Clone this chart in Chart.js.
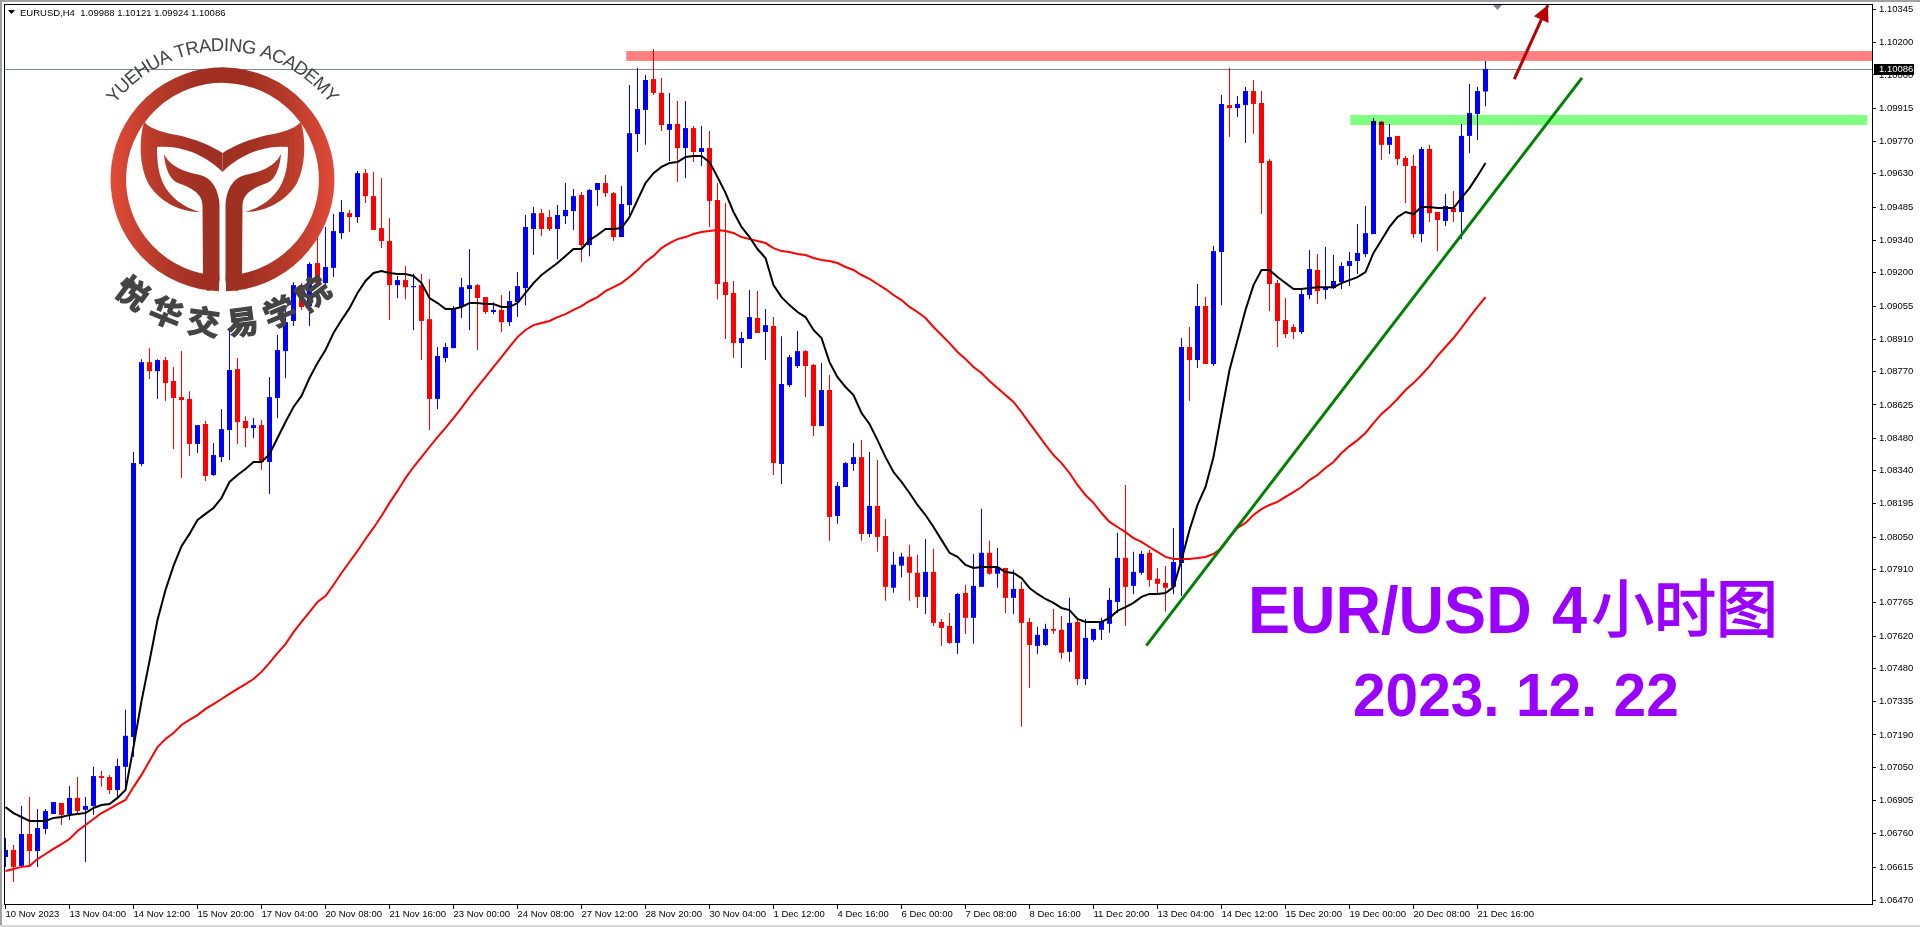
<!DOCTYPE html>
<html lang="zh">
<head>
    <meta charset="utf-8">
    <title>EURUSD H4</title>
    <style>
        html, body { margin: 0; padding: 0; background: #fff; overflow: hidden; }
        canvas { display: block; }
    </style>
    <script src="https://cdn.jsdelivr.net/npm/chart.js@4/dist/chart.umd.min.js"></script>
</head>
<body>
    <canvas id="myChart" width="1920" height="927"></canvas>
    <script>
        const opens = [
            1.06659,1.06690,1.06620,1.06759,1.06685,1.06781,1.06846,1.06894,1.06846,1.06916,
            1.06864,1.06881,1.07011,1.07007,1.06950,1.07051,1.07181,1.08368,1.08811,1.08772,
            1.08820,1.08729,1.08659,1.08651,1.08455,1.08542,1.08320,1.08398,1.08516,1.08781,
            1.08555,1.08524,1.08537,1.08377,1.08655,1.08859,1.08990,1.09137,1.09055,1.09242,
            1.09155,1.09221,1.09372,1.09459,1.09442,1.09633,1.09533,1.09394,1.09338,1.09146,
            1.09168,1.09137,1.09146,1.08998,1.08651,1.08829,1.08872,1.09051,1.09129,1.09146,
            1.09094,1.09029,1.09038,1.08985,1.09072,1.09133,1.09390,1.09459,1.09442,1.09390,
            1.09446,1.09468,1.09538,1.09320,1.09560,1.09590,1.09546,1.09355,1.09494,1.09803,
            1.09908,1.10042,1.09982,1.09821,1.09847,1.09742,1.09829,1.09725,1.09742,1.09516,
            1.09159,1.09112,1.08894,1.08912,1.09003,1.08942,1.08968,1.08368,1.08711,1.08794,
            1.08859,1.08799,1.08533,1.08690,1.08142,1.08268,1.08368,1.08398,1.08064,1.08186,
            1.08055,1.07830,1.07926,1.07965,1.07895,1.07790,1.07899,1.07681,1.07664,1.07590,
            1.07807,1.07699,1.07834,1.07982,1.07891,1.07916,1.07786,1.07825,1.07681,1.07577,
            1.07581,1.07651,1.07647,1.07551,1.07681,1.07433,1.07603,1.07647,1.07673,1.07768,
            1.07960,1.07838,1.07895,1.07982,1.07869,1.07851,1.07834,1.07938,1.08877,1.08820,
            1.09055,1.08803,1.09290,1.09929,1.09916,1.09929,1.09990,1.09938,1.09686,1.09155,
            1.08994,1.08964,1.08942,1.09103,1.09212,1.09125,1.09133,1.09159,1.09229,1.09251,
            1.09281,1.09368,1.09856,1.09756,1.09795,1.09699,1.09664,1.09368,1.09738,1.09464,
            1.09425,1.09481,1.09464,1.09795,1.09890,1.09988
        ];
        const highs = [
            1.06742,1.06711,1.06881,1.06920,1.06868,1.06868,1.06898,1.06894,1.06968,1.07007,
            1.06920,1.07051,1.07033,1.07016,1.07086,1.07299,1.08420,1.08824,1.08872,1.08824,
            1.08833,1.08790,1.08859,1.08685,1.08537,1.08555,1.08459,1.08607,1.08955,1.08829,
            1.08576,1.08568,1.08559,1.08746,1.08929,1.09046,1.09159,1.09155,1.09246,1.09351,
            1.09399,1.09455,1.09516,1.09473,1.09642,1.09651,1.09638,1.09612,1.09438,1.09186,
            1.09229,1.09194,1.09194,1.09172,1.08877,1.08894,1.09055,1.09177,1.09303,1.09151,
            1.09094,1.09072,1.09103,1.09120,1.09203,1.09451,1.09486,1.09477,1.09473,1.09494,
            1.09590,1.09564,1.09551,1.09564,1.09590,1.09625,1.09551,1.09577,1.10016,1.10090,
            1.10060,1.10173,1.10047,1.09982,1.09947,1.09947,1.09838,1.09838,1.09816,1.09590,
            1.09503,1.09164,1.08942,1.09125,1.09120,1.09042,1.09007,1.08924,1.08842,1.08946,
            1.08864,1.08803,1.08807,1.08755,1.08290,1.08377,1.08459,1.08472,1.08420,1.08385,
            1.08129,1.07986,1.07982,1.08017,1.07973,1.08042,1.07999,1.07694,1.07720,1.07807,
            1.07842,1.07977,1.08173,1.08034,1.08003,1.07916,1.07908,1.07856,1.07699,1.07660,
            1.07673,1.07738,1.07707,1.07786,1.07694,1.07694,1.07651,1.07699,1.07829,1.08069,
            1.08277,1.07986,1.07990,1.07995,1.07916,1.07925,1.08090,1.08916,1.08964,1.09151,
            1.09094,1.09316,1.09973,1.10090,1.09969,1.10008,1.10038,1.09990,1.09694,1.09168,
            1.09090,1.08977,1.09129,1.09299,1.09281,1.09312,1.09277,1.09246,1.09290,1.09412,
            1.09490,1.09873,1.09860,1.09847,1.09795,1.09708,1.09712,1.09747,1.09756,1.09464,
            1.09542,1.09555,1.09847,1.10021,1.10008,1.10121
        ];
        const lows = [
            1.06616,1.06550,1.06616,1.06616,1.06616,1.06759,1.06846,1.06798,1.06820,1.06846,
            1.06637,1.06842,1.06964,1.06933,1.06920,1.06946,1.07094,1.08359,1.08738,1.08651,
            1.08642,1.08433,1.08307,1.08403,1.08416,1.08294,1.08316,1.08377,1.08385,1.08455,
            1.08442,1.08481,1.08342,1.08238,1.08568,1.08742,1.08968,1.09038,1.08968,1.09146,
            1.09137,1.09181,1.09346,1.09377,1.09416,1.09503,1.09386,1.09307,1.08994,1.09090,
            1.09085,1.08951,1.08820,1.08516,1.08607,1.08811,1.08872,1.09003,1.08951,1.08864,
            1.09020,1.09020,1.08942,1.08968,1.09007,1.09059,1.09277,1.09359,1.09381,1.09259,
            1.09412,1.09386,1.09246,1.09272,1.09490,1.09529,1.09338,1.09355,1.09451,1.09725,
            1.09756,1.09973,1.09816,1.09686,1.09594,1.09612,1.09681,1.09664,1.09399,1.09085,
            1.08912,1.08829,1.08786,1.08912,1.08938,1.08820,1.08320,1.08281,1.08703,1.08786,
            1.08659,1.08490,1.08533,1.08034,1.08108,1.08268,1.08338,1.08034,1.08051,1.07986,
            1.07773,1.07808,1.07874,1.07773,1.07742,1.07716,1.07664,1.07577,1.07586,1.07542,
            1.07629,1.07586,1.07834,1.07886,1.07830,1.07720,1.07716,1.07225,1.07394,1.07542,
            1.07577,1.07629,1.07521,1.07508,1.07407,1.07407,1.07595,1.07603,1.07634,1.07720,
            1.07664,1.07803,1.07886,1.07834,1.07803,1.07725,1.07803,1.07794,1.08642,1.08786,
            1.08803,1.08794,1.09059,1.09790,1.09877,1.09764,1.09803,1.09455,1.09033,1.08877,
            1.08916,1.08912,1.08933,1.09085,1.09064,1.09085,1.09129,1.09129,1.09142,1.09194,
            1.09268,1.09368,1.09690,1.09716,1.09668,1.09503,1.09351,1.09333,1.09420,1.09294,
            1.09403,1.09420,1.09346,1.09721,1.09777,1.09924
        ];
        const closes = [
            1.06690,1.06616,1.06759,1.06685,1.06785,1.06859,1.06898,1.06842,1.06916,1.06859,
            1.06881,1.07011,1.07003,1.06950,1.07055,1.07186,1.08372,1.08811,1.08772,1.08820,
            1.08720,1.08655,1.08646,1.08455,1.08537,1.08316,1.08407,1.08520,1.08777,1.08550,
            1.08524,1.08537,1.08377,1.08659,1.08864,1.08985,1.09146,1.09051,1.09238,1.09155,
            1.09225,1.09381,1.09464,1.09442,1.09633,1.09533,1.09386,1.09338,1.09146,1.09168,
            1.09137,1.09142,1.08990,1.08651,1.08838,1.08877,1.09046,1.09137,1.09146,1.09090,
            1.09029,1.09038,1.08985,1.09077,1.09142,1.09399,1.09459,1.09390,1.09390,1.09451,
            1.09473,1.09533,1.09320,1.09560,1.09590,1.09546,1.09355,1.09499,1.09807,1.09912,
            1.10038,1.09982,1.09842,1.09847,1.09742,1.09829,1.09725,1.09742,1.09512,1.09151,
            1.09103,1.08894,1.08916,1.09007,1.08938,1.08972,1.08372,1.08716,1.08833,1.08859,
            1.08794,1.08533,1.08690,1.08138,1.08273,1.08372,1.08398,1.08064,1.08186,1.08051,
            1.07834,1.07930,1.07965,1.07895,1.07790,1.07899,1.07677,1.07655,1.07590,1.07803,
            1.07699,1.07838,1.07982,1.07891,1.07916,1.07786,1.07825,1.07677,1.07581,1.07625,
            1.07651,1.07643,1.07547,1.07677,1.07433,1.07612,1.07651,1.07681,1.07777,1.07960,
            1.07834,1.07899,1.07977,1.07864,1.07847,1.07830,1.07942,1.08877,1.08820,1.09055,
            1.08803,1.09294,1.09934,1.09916,1.09934,1.09990,1.09934,1.09677,1.09151,1.08990,
            1.08933,1.08942,1.09107,1.09216,1.09120,1.09137,1.09164,1.09229,1.09251,1.09286,
            1.09372,1.09860,1.09756,1.09790,1.09694,1.09664,1.09368,1.09738,1.09459,1.09429,
            1.09490,1.09464,1.09795,1.09895,1.09990,1.10086
        ];
        const fastMa = [
            1.06876,1.06850,1.06833,1.06816,1.06816,1.06816,1.06829,1.06833,1.06842,1.06846,
            1.06850,1.06872,1.06885,1.06889,1.06916,1.06950,1.07137,1.07337,1.07511,1.07690,
            1.07820,1.07925,1.08011,1.08064,1.08125,1.08151,1.08177,1.08220,1.08290,1.08320,
            1.08346,1.08377,1.08377,1.08411,1.08481,1.08551,1.08616,1.08664,1.08742,1.08807,
            1.08864,1.08938,1.08994,1.09046,1.09112,1.09164,1.09199,1.09207,1.09199,1.09194,
            1.09194,1.09186,1.09155,1.09090,1.09068,1.09042,1.09042,1.09051,1.09068,1.09068,
            1.09064,1.09064,1.09051,1.09051,1.09068,1.09112,1.09155,1.09190,1.09216,1.09242,
            1.09273,1.09303,1.09303,1.09342,1.09364,1.09390,1.09390,1.09394,1.09442,1.09516,
            1.09590,1.09633,1.09660,1.09677,1.09681,1.09703,1.09708,1.09708,1.09681,1.09616,
            1.09547,1.09464,1.09399,1.09355,1.09303,1.09264,1.09146,1.09094,1.09059,1.09029,
            1.09007,1.08951,1.08916,1.08811,1.08746,1.08703,1.08668,1.08590,1.08542,1.08472,
            1.08398,1.08333,1.08290,1.08242,1.08190,1.08146,1.08094,1.08038,1.07982,1.07964,
            1.07929,1.07916,1.07920,1.07920,1.07920,1.07898,1.07894,1.07872,1.07829,1.07803,
            1.07781,1.07764,1.07742,1.07733,1.07694,1.07681,1.07681,1.07681,1.07699,1.07729,
            1.07746,1.07764,1.07790,1.07803,1.07803,1.07807,1.07833,1.07951,1.08081,1.08190,
            1.08268,1.08398,1.08590,1.08777,1.08907,1.09038,1.09146,1.09212,1.09212,1.09181,
            1.09155,1.09129,1.09129,1.09133,1.09137,1.09137,1.09137,1.09155,1.09168,1.09181,
            1.09203,1.09286,1.09342,1.09399,1.09442,1.09464,1.09455,1.09486,1.09486,1.09481,
            1.09481,1.09481,1.09525,1.09568,1.09621,1.09677
        ];
        const slowMa = [
            1.06598,1.06607,1.06616,1.06620,1.06650,1.06672,1.06694,1.06715,1.06737,1.06772,
            1.06798,1.06824,1.06850,1.06868,1.06889,1.06907,1.06963,1.07016,1.07076,1.07137,
            1.07172,1.07198,1.07233,1.07255,1.07276,1.07303,1.07324,1.07346,1.07368,1.07390,
            1.07411,1.07433,1.07464,1.07503,1.07546,1.07585,1.07637,1.07681,1.07724,1.07768,
            1.07794,1.07842,1.07894,1.07942,1.07990,1.08042,1.08090,1.08142,1.08199,1.08251,
            1.08307,1.08355,1.08398,1.08442,1.08485,1.08525,1.08568,1.08612,1.08659,1.08703,
            1.08746,1.08790,1.08833,1.08877,1.08920,1.08951,1.08972,1.08981,1.08990,1.09007,
            1.09020,1.09038,1.09055,1.09077,1.09094,1.09120,1.09137,1.09155,1.09181,1.09212,
            1.09247,1.09273,1.09307,1.09329,1.09346,1.09355,1.09368,1.09377,1.09381,1.09386,
            1.09381,1.09373,1.09355,1.09346,1.09338,1.09329,1.09307,1.09294,1.09290,1.09281,
            1.09277,1.09264,1.09255,1.09251,1.09242,1.09225,1.09212,1.09190,1.09173,1.09151,
            1.09129,1.09103,1.09081,1.09051,1.09029,1.09003,1.08964,1.08929,1.08894,1.08855,
            1.08825,1.08790,1.08764,1.08729,1.08699,1.08668,1.08638,1.08594,1.08546,1.08499,
            1.08451,1.08407,1.08372,1.08329,1.08277,1.08233,1.08199,1.08155,1.08116,1.08094,
            1.08072,1.08046,1.08029,1.08007,1.07986,1.07964,1.07955,1.07955,1.07955,1.07959,
            1.07964,1.07977,1.08003,1.08051,1.08090,1.08112,1.08146,1.08172,1.08190,1.08203,
            1.08225,1.08246,1.08268,1.08298,1.08320,1.08351,1.08377,1.08416,1.08446,1.08472,
            1.08503,1.08546,1.08586,1.08616,1.08651,1.08690,1.08720,1.08755,1.08794,1.08838,
            1.08877,1.08916,1.08960,1.09007,1.09051,1.09094
        ];

        const priceTicks = [
            1.10345,1.10200,1.10060,1.09915,1.09770,1.09630,1.09485,1.09340,1.09200,1.09055,
            1.08910,1.08770,1.08625,1.08480,1.08340,1.08195,1.08050,1.07910,1.07765,1.07620,
            1.07480,1.07335,1.07190,1.07050,1.06905,1.06760,1.06615,1.06470
        ];
        const timeLabels = [
            '10 Nov 2023','13 Nov 04:00','14 Nov 12:00','15 Nov 20:00','17 Nov 04:00','20 Nov 08:00',
            '21 Nov 16:00','23 Nov 00:00','24 Nov 08:00','27 Nov 12:00','28 Nov 20:00','30 Nov 04:00',
            '1 Dec 12:00','4 Dec 16:00','6 Dec 00:00','7 Dec 08:00','8 Dec 16:00','11 Dec 20:00',
            '13 Dec 04:00','14 Dec 12:00','15 Dec 20:00','19 Dec 00:00','20 Dec 08:00','21 Dec 16:00'
        ];
        const barsPerLabel = 8;

        const lastPrice = 1.10086;
        const headerText = 'EURUSD,H4  1.09988 1.10121 1.09924 1.10086';
        const resistanceBand = [1.10164, 1.10121];
        const resistanceBars = [77.6, 233.4];
        const supportBand = [1.09886, 1.09842];
        const supportBars = [168.1, 232.7];
        const trendBars = [142.6, 197.06];
        const trendPrices = [1.07578, 1.10047];
        const arrowBars = [188.6, 192.8];
        const arrowPrices = [1.10042, 1.10364];

        const FONT = '"Liberation Sans", Arial, sans-serif';
        const CJK = '"Noto Sans CJK SC", sans-serif';

        function pts(xs, ys) {
            return ys.map((y, i) => ({ x: xs ? xs[i] : i, y: y }));
        }

        // wicks and bodies are floating bars
        const wicks = highs.map((h, i) => ({ x: i, y: [lows[i], h] }));
        const bodies = opens.map((o, i) => ({ x: i, y: [o, closes[i]] }));
        const candleColors = opens.map((o, i) => closes[i] >= o ? '#0000ff' : '#ff0000');

        function logoPaint(ctx) {
            const g = ctx.createLinearGradient(110, 0, 335, 0);
            g.addColorStop(0, '#e24a38');
            g.addColorStop(0.22, '#b53a29');
            g.addColorStop(0.4, '#a03022');
            g.addColorStop(0.6, '#a03022');
            g.addColorStop(0.78, '#b53a29');
            g.addColorStop(1, '#e24a38');
            return g;
        }

        function drawTail(ctx) {
            ctx.beginPath();
            ctx.moveTo(222.5, 153);
            ctx.bezierCurveTo(210, 145, 195, 139, 177, 135);
            ctx.bezierCurveTo(165, 133, 152, 130, 144, 122);
            ctx.bezierCurveTo(139, 140, 139, 165, 148, 183);
            ctx.bezierCurveTo(158, 200, 178, 212, 200, 212);
            ctx.bezierCurveTo(185, 208, 170, 198, 163, 183);
            ctx.bezierCurveTo(158, 172, 157, 160, 157, 147);
            ctx.bezierCurveTo(175, 146, 200, 150, 222.5, 172);
            ctx.closePath();
            ctx.fill();
            ctx.beginPath();
            ctx.moveTo(164, 154);
            ctx.bezierCurveTo(170, 167, 185, 172, 200, 175);
            ctx.bezierCurveTo(212, 178, 219, 190, 219.5, 205);
            ctx.lineTo(219.5, 280);
            ctx.quadraticCurveTo(219, 289, 207, 291);
            ctx.lineTo(203, 275);
            ctx.lineTo(202.5, 205);
            ctx.bezierCurveTo(202, 195, 195, 189, 178, 183);
            ctx.bezierCurveTo(170, 180, 165, 168, 164, 154);
            ctx.closePath();
            ctx.fill();
        }

        function drawLogo(ctx) {
            ctx.save();
            const paint = logoPaint(ctx);
            ctx.strokeStyle = paint;
            ctx.fillStyle = paint;
            ctx.lineWidth = 15.5;
            ctx.beginPath();
            const gap = 0.032;
            ctx.arc(222.5, 179.3, 104.2, Math.PI / 2 + gap, Math.PI / 2 - gap);
            ctx.stroke();
            drawTail(ctx);
            ctx.save();
            ctx.translate(445, 0);
            ctx.scale(-1, 1);
            drawTail(ctx);
            ctx.restore();

            // top arc text
            ctx.fillStyle = '#444444';
            ctx.strokeStyle = '#444444';
            ctx.font = '18.5px ' + FONT;
            ctx.textAlign = 'center';
            ctx.textBaseline = 'alphabetic';
            const name = 'YUEHUA TRADING ACADEMY';
            const widths = [...name].map(c => ctx.measureText(c).width);
            const total = widths.reduce((a, b) => a + b, 0);
            const span = 104.5 * Math.PI / 180;
            let used = 0;
            [...name].forEach((c, i) => {
                const a = -span / 2 + (used + widths[i] / 2) / total * span;
                used += widths[i];
                ctx.save();
                ctx.translate(222.5 + 136 * Math.sin(a), 187 - 136 * Math.cos(a));
                ctx.rotate(a);
                ctx.fillText(c, 0, 0);
                ctx.restore();
            });

            // bottom arc text
            ctx.font = 'bold 32px ' + CJK;
            ctx.textBaseline = 'middle';
            ctx.lineWidth = 1.2;
            [...'悦华交易学院'].forEach((c, i) => {
                const a = (36.9 - i * 14.76) * Math.PI / 180;
                ctx.save();
                ctx.translate(223 - 150 * Math.sin(a), 173 + 150 * Math.cos(a));
                ctx.rotate(a);
                ctx.fillText(c, 0, 0);
                ctx.strokeText(c, 0, 0);
                ctx.restore();
            });
            ctx.restore();
        }

        // latin caption squeezed to the reference width
        function squeezedText(ctx, text, x, y, sx) {
            ctx.save();
            ctx.translate(x, y);
            ctx.scale(sx, 1);
            ctx.fillText(text, 0, 0);
            ctx.restore();
        }

        const overlay = {
            id: 'overlay',
            beforeDatasetsDraw(chart) {
                const ctx = chart.ctx;
                const y = Math.round(chart.scales.y.getPixelForValue(lastPrice)) + 0.5;
                ctx.save();
                ctx.strokeStyle = '#778899';
                ctx.lineWidth = 1;
                ctx.beginPath();
                ctx.moveTo(chart.chartArea.left, y);
                ctx.lineTo(chart.chartArea.right, y);
                ctx.stroke();
                ctx.restore();
            },
            afterDatasetsDraw(chart) {
                const ctx = chart.ctx;
                const sx = chart.scales.x;
                const sy = chart.scales.y;
                ctx.save();
                // the bands tint what is below them
                ctx.globalCompositeOperation = 'multiply';
                ctx.fillStyle = '#ff8080';
                ctx.fillRect(sx.getPixelForValue(resistanceBars[0]), sy.getPixelForValue(resistanceBand[0]),
                    sx.getPixelForValue(resistanceBars[1]) - sx.getPixelForValue(resistanceBars[0]),
                    sy.getPixelForValue(resistanceBand[1]) - sy.getPixelForValue(resistanceBand[0]));
                ctx.fillStyle = '#80ff80';
                ctx.fillRect(sx.getPixelForValue(supportBars[0]), sy.getPixelForValue(supportBand[0]),
                    sx.getPixelForValue(supportBars[1]) - sx.getPixelForValue(supportBars[0]),
                    sy.getPixelForValue(supportBand[1]) - sy.getPixelForValue(supportBand[0]));
                ctx.restore();

                // arrow head
                const x0 = sx.getPixelForValue(arrowBars[0]);
                const y0 = sy.getPixelForValue(arrowPrices[0]);
                const x1 = sx.getPixelForValue(arrowBars[1]);
                const y1 = sy.getPixelForValue(arrowPrices[1]);
                const ang = Math.atan2(y1 - y0, x1 - x0);
                ctx.save();
                ctx.fillStyle = '#b80000';
                ctx.translate(x1, y1);
                ctx.rotate(ang);
                ctx.beginPath();
                ctx.moveTo(0, 0);
                ctx.lineTo(-16, 8);
                ctx.lineTo(-16, -8);
                ctx.closePath();
                ctx.fill();
                ctx.restore();
            },
            afterDraw(chart) {
                const ctx = chart.ctx;
                const area = chart.chartArea;
                ctx.save();
                // window edge
                ctx.fillStyle = '#a0a0a0';
                ctx.fillRect(0, 0, 1920, 2);
                ctx.fillRect(0, 0, 2, 927);
                ctx.fillStyle = '#d8d8d8';
                ctx.fillRect(0, 925, 1920, 2);
                // frame
                ctx.strokeStyle = '#000';
                ctx.lineWidth = 1;
                ctx.strokeRect(area.left + 0.5, area.top + 0.5, area.right - area.left, area.bottom - area.top - 1);

                // shift marker
                ctx.fillStyle = '#778899';
                ctx.beginPath();
                ctx.moveTo(1493, 5);
                ctx.lineTo(1502, 5);
                ctx.lineTo(1497.5, 10);
                ctx.closePath();
                ctx.fill();

                // header
                ctx.fillStyle = '#000';
                ctx.beginPath();
                ctx.moveTo(8, 10);
                ctx.lineTo(15, 10);
                ctx.lineTo(11.5, 14);
                ctx.closePath();
                ctx.fill();
                ctx.font = '9.5px ' + FONT;
                ctx.textBaseline = 'middle';
                ctx.textAlign = 'left';
                ctx.fillText(headerText, 20, 13);

                // price tag
                const py = chart.scales.y.getPixelForValue(lastPrice);
                ctx.fillRect(1874, Math.round(py) - 5, 40, 11);
                ctx.fillStyle = '#fff';
                ctx.fillText(lastPrice.toFixed(5), 1879, Math.round(py) + 0.5);

                // caption
                ctx.fillStyle = '#9900ff';
                ctx.strokeStyle = '#9900ff';
                ctx.textBaseline = 'alphabetic';
                ctx.font = 'bold 66px ' + FONT;
                squeezedText(ctx, 'EUR/USD', 1248, 633, 0.955);
                squeezedText(ctx, '4', 1552, 633, 0.955);
                ctx.font = '62px ' + CJK;
                ctx.lineWidth = 1.5;
                ctx.fillText('小时图', 1592, 632);
                ctx.strokeText('小时图', 1592, 632);
                ctx.font = 'bold 62px ' + FONT;
                squeezedText(ctx, '2023. 12. 22', 1353, 716, 0.945);
                ctx.restore();

                drawLogo(ctx);
            }
        };

        const ctx = document.getElementById('myChart').getContext('2d');
        const myChart = new Chart(ctx, {
            type: 'bar',
            data: {
                datasets: [
                    {
                        type: 'line',
                        label: 'arrow',
                        data: pts(arrowBars, arrowPrices),
                        borderColor: '#b80000',
                        borderWidth: 3,
                        pointRadius: 0,
                        order: 0
                    },
                    {
                        type: 'line',
                        label: 'trend',
                        data: pts(trendBars, trendPrices),
                        borderColor: '#008000',
                        borderWidth: 3,
                        pointRadius: 0,
                        order: 1
                    },
                    {
                        type: 'line',
                        label: 'fast',
                        data: pts(null, fastMa),
                        borderColor: '#000000',
                        borderWidth: 2,
                        pointRadius: 0,
                        order: 2
                    },
                    {
                        type: 'line',
                        label: 'slow',
                        data: pts(null, slowMa),
                        borderColor: '#ff0000',
                        borderWidth: 2,
                        pointRadius: 0,
                        order: 3
                    },
                    {
                        label: 'body',
                        data: bodies,
                        backgroundColor: candleColors,
                        barThickness: 5,
                        maxBarThickness: 5,
                        grouped: false,
                        inflateAmount: 0,
                        borderWidth: 0,
                        order: 4
                    },
                    {
                        label: 'wick',
                        data: wicks,
                        backgroundColor: candleColors,
                        barThickness: 1,
                        maxBarThickness: 1,
                        grouped: false,
                        inflateAmount: 0,
                        borderWidth: 0,
                        order: 5
                    }
                ]
            },
            options: {
                responsive: false,
                animation: false,
                events: [],
                layout: { padding: { left: 4, top: 4, right: 0, bottom: 0 } },
                plugins: { legend: { display: false }, tooltip: { enabled: false }, title: { display: false } },
                scales: {
                    x: {
                        type: 'linear',
                        offset: false,
                        min: -0.1875,
                        max: 233.3125,
                        border: { display: false },
                        grid: { offset: false, drawOnChartArea: false, drawTicks: true, tickLength: 4, color: '#000' },
                        ticks: {
                            autoSkip: false,
                            maxRotation: 0,
                            align: 'start',
                            padding: 0,
                            color: '#000',
                            font: { family: FONT, size: 9.5 },
                            callback: v => timeLabels[v / barsPerLabel]
                        },
                        afterBuildTicks: s => {
                            s.ticks = timeLabels.map((t, i) => ({ value: i * barsPerLabel }));
                        },
                        afterFit: s => {
                            s.height = 22;
                            s.paddingLeft = 0;
                            s.paddingRight = 0;
                        }
                    },
                    y: {
                        position: 'right',
                        min: 1.064502,
                        max: 1.103686,
                        border: { display: false },
                        grid: { drawOnChartArea: false, drawTicks: true, tickLength: 4, color: '#000' },
                        ticks: {
                            autoSkip: false,
                            padding: 3,
                            color: '#000',
                            font: { family: FONT, size: 9.5 },
                            callback: v => v.toFixed(5)
                        },
                        afterBuildTicks: s => {
                            s.ticks = priceTicks.map(v => ({ value: v }));
                        },
                        afterFit: s => {
                            s.width = 48;
                            s.paddingTop = 0;
                            s.paddingBottom = 0;
                        }
                    }
                }
            },
            plugins: [overlay]
        });
    </script>
</body>
</html>
